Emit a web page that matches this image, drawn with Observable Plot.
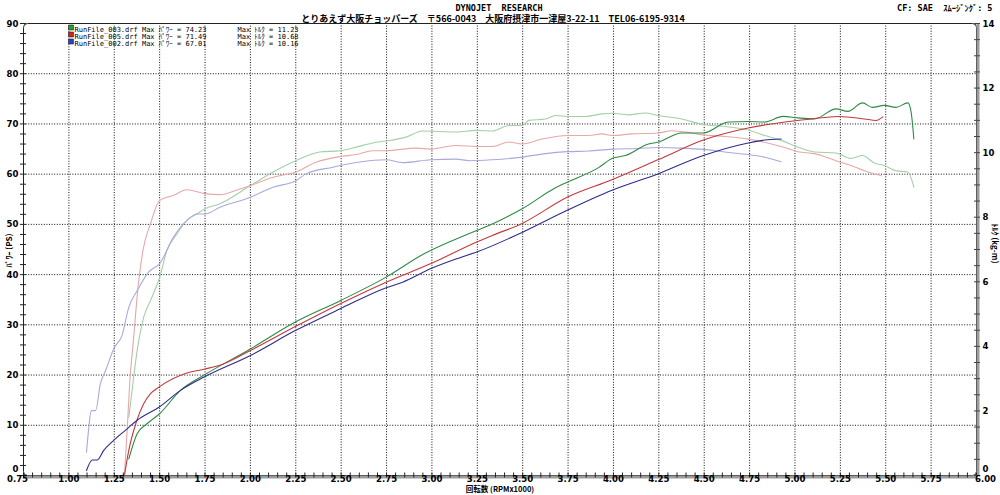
<!DOCTYPE html>
<html><head><meta charset="utf-8">
<script src="https://cdn.jsdelivr.net/npm/d3@7"></script>
<script src="https://cdn.jsdelivr.net/npm/@observablehq/plot@0.6"></script>
<style>html,body{margin:0;padding:0;background:#fff;} svg{display:block}</style>
</head><body><div id="chart"></div>
<script>
// ---- texts ----
const titleMain = "DYNOJET  RESEARCH";
const titleShop = "とりあえず大阪チョッパーズ　〒566-0043　大阪府摂津市一津屋3-22-11　TEL06-6195-9314";
const titleCF = "CF: SAE  ｽﾑｰｼﾞﾝｸﾞ: 5";
const xTitle = "回転数 (RPMx1000)";
const yTitleLeft = "ﾊﾟﾜｰ (PS)";
const yTitleRight = "ﾄﾙｸ (kg-m)";

// ---- legend ----
const runNames = ["RunFile_003.drf", "RunFile_005.drf", "RunFile_002.drf"];
const maxPower = ["74.23", "71.49", "67.01"];
const maxTorque = ["11.23", "10.68", "10.16"];

// ---- tick labels ----
const xTickLabels = ["0.75","1.00","1.25","1.50","1.75","2.00","2.25","2.50","2.75","3.00","3.25","3.50","3.75","4.00","4.25","4.50","4.75","5.00","5.25","5.50","5.75","6.00"];
const yTickLabels = [0,10,20,30,40,50,60,70,80,90];
const torqueTickLabels = [0,2,4,6,8,10,12,14];

// ---- power (PS) : [rpm x1000, PS] ----
const power003 = [[1.33,3.3],[1.376,8.3],[1.43,10.3],[1.50,12.3],[1.613,16.9],[1.75,20.1],[2.0,25.2],[2.25,30.6],[2.495,34.8],[2.748,39.5],[2.949,44.0],[3.247,48.8],[3.333,50.1],[3.497,53.1],[3.681,57.3],[3.745,58.4],[3.918,61.3],[3.992,63.1],[4.065,63.7],[4.193,66.0],[4.248,66.4],[4.376,68.2],[4.495,68.2],[4.632,70.4],[4.742,70.5],[4.833,70.4],[4.934,71.5],[5.016,71.2],[5.108,71.0],[5.226,73.0],[5.292,72.5],[5.372,74.2],[5.427,73.3],[5.492,73.7],[5.556,73.3],[5.622,74.2],[5.640,72.3],[5.655,67.0]];
const power005 = [[1.306,0],[1.33,5.0],[1.37,10.5],[1.412,14.3],[1.45,16.3],[1.50,17.7],[1.65,20.4],[1.75,21.2],[1.851,22.2],[2.0,24.9],[2.25,29.7],[2.495,34.2],[2.748,38.5],[2.995,42.2],[3.247,46.5],[3.333,47.8],[3.497,50.2],[3.745,55.4],[3.992,58.9],[4.248,62.9],[4.495,66.8],[4.742,69.2],[4.907,70.2],[5.09,71.0],[5.237,71.49],[5.383,71.0],[5.447,70.7],[5.484,71.4]];
const power002 = [[1.097,1.0],[1.129,3.1],[1.157,3.1],[1.192,5.0],[1.25,7.1],[1.311,9.0],[1.376,11.0],[1.50,13.7],[1.613,16.9],[1.75,19.7],[2.0,23.9],[2.25,28.9],[2.495,33.2],[2.748,37.4],[2.839,38.5],[2.995,41.2],[3.132,43.1],[3.247,44.5],[3.497,48.4],[3.745,52.8],[3.992,56.8],[4.248,60.1],[4.495,63.7],[4.742,66.2],[4.833,66.8],[4.924,67.01]];

// ---- torque (kg-m) : [rpm x1000, kg-m] ----
const torque003 = [[1.33,1.80],[1.348,2.63],[1.376,3.87],[1.412,4.90],[1.449,5.41],[1.50,6.14],[1.54,6.97],[1.595,7.48],[1.65,7.90],[1.705,8.10],[1.75,8.26],[1.833,8.42],[2.0,8.98],[2.125,9.40],[2.25,9.75],[2.382,10.02],[2.495,10.06],[2.583,10.17],[2.674,10.30],[2.748,10.36],[2.858,10.48],[2.949,10.67],[3.132,10.64],[3.247,10.69],[3.333,10.67],[3.424,10.84],[3.497,10.84],[3.534,11.00],[3.626,11.04],[3.681,11.15],[3.745,11.12],[3.846,11.12],[3.937,11.20],[3.992,11.22],[4.083,11.17],[4.175,11.23],[4.248,11.15],[4.376,11.04],[4.495,10.87],[4.614,10.81],[4.742,10.70],[4.833,10.53],[4.924,10.38],[5.016,10.17],[5.108,10.02],[5.226,9.99],[5.309,9.82],[5.372,9.91],[5.437,9.68],[5.492,9.60],[5.556,9.44],[5.622,9.40],[5.655,8.93]];
const torque005 = [[1.306,0],[1.320,1.29],[1.335,2.85],[1.357,4.28],[1.379,5.72],[1.408,6.97],[1.449,7.79],[1.50,8.52],[1.577,8.68],[1.65,8.85],[1.75,8.73],[1.833,8.70],[1.925,8.84],[2.0,8.98],[2.125,9.24],[2.25,9.40],[2.364,9.71],[2.495,9.88],[2.583,9.94],[2.674,10.06],[2.748,10.06],[2.913,10.14],[2.995,10.11],[3.132,10.22],[3.247,10.19],[3.333,10.19],[3.424,10.33],[3.497,10.27],[3.607,10.42],[3.745,10.53],[3.864,10.53],[3.937,10.58],[3.992,10.53],[4.101,10.58],[4.248,10.61],[4.321,10.68],[4.431,10.61],[4.495,10.55],[4.614,10.50],[4.742,10.42],[4.870,10.27],[4.943,10.16],[5.016,10.03],[5.108,9.97],[5.226,9.75],[5.309,9.60],[5.383,9.44],[5.474,9.29]];
const torque002 = [[1.097,0.72],[1.11,1.49],[1.123,2.01],[1.147,2.01],[1.174,2.85],[1.202,3.25],[1.251,3.97],[1.293,4.34],[1.33,5.21],[1.376,5.72],[1.439,6.30],[1.50,6.56],[1.577,7.39],[1.65,7.90],[1.705,8.10],[1.75,8.10],[1.833,8.31],[2.0,8.62],[2.125,8.93],[2.25,9.13],[2.309,9.35],[2.455,9.55],[2.601,9.71],[2.748,9.78],[2.839,9.69],[2.995,9.78],[3.132,9.80],[3.206,9.75],[3.333,9.78],[3.497,9.86],[3.626,9.97],[3.745,10.03],[3.864,10.05],[3.992,10.11],[4.138,10.13],[4.248,10.16],[4.376,10.14],[4.495,10.10],[4.614,10.02],[4.742,9.94],[4.833,9.86],[4.924,9.72]];

// ---- styles ----
const powerColors = ["#2f8a45", "#c23a3c", "#2c2c8c"];
const torqueColors = ["#a3d0a6", "#e6a8a8", "#a9a9dc"];
const iconColors = ["#2aa02a", "#d42424", "#2444d4"];

const K = 90 / 14; // torque kg-m -> left-axis units
const xVals = xTickLabels.map(Number);
const xGrid = xVals.filter(v => v > 0.76 && v < 5.99);
const yGrid = yTickLabels.filter(v => v > 0 && v < 90);
const xMinor = d3.range(15, 121).map(i => i * 0.05);
const yMinor = d3.range(0, 46).map(i => i * 2);
const tMinor = d3.range(0, 29).map(i => i * 0.5 * K);

const tickFont = "'Liberation Sans Narrow', 'DejaVu Sans Condensed', sans-serif";
const monoFont = "'DejaVu Sans Mono', 'Noto Sans CJK JP', monospace";
const cjkFont = "'Noto Sans CJK JP', sans-serif";

const powerSeries = [power003, power005, power002];
const torqueSeries = [torque003, torque005, torque002];

const marks = [
  Plot.ruleX(xGrid, {stroke: "#111", strokeDasharray: "1,1.6", strokeWidth: 1}),
  Plot.ruleY(yGrid, {stroke: "#111", strokeDasharray: "1,1.6", strokeWidth: 1}),
];
torqueSeries.forEach((s, i) => marks.push(
  Plot.line(s, {x: d => d[0], y: d => d[1] * K, stroke: torqueColors[i], strokeWidth: 1.1, curve: "monotone-x"})
));
powerSeries.forEach((s, i) => marks.push(
  Plot.line(s, {x: d => d[0], y: d => d[1], stroke: powerColors[i], strokeWidth: 1.1, curve: "monotone-x"})
));
const lab = {fontFamily: tickFont, fontSize: 9.5, fontWeight: "bold"};
marks.push(
  Plot.frame({stroke: "#222", rx: 4}),
  Plot.ruleX([6], {stroke: "#9c9c9c", strokeWidth: 3, dx: 1.5}),
  Plot.ruleY([0], {stroke: "#9c9c9c", strokeWidth: 3, dy: 1.5}),
  // minor ticks
  Plot.axisX({anchor: "bottom", ticks: xMinor, tickSize: 5, dy: -2.5, tickFormat: () => "", stroke: "#222"}),
  Plot.axisY({anchor: "left", ticks: yMinor, tickSize: 6, dx: 3, tickFormat: () => "", stroke: "#222"}),
  Plot.axisY({anchor: "right", ticks: tMinor, tickSize: 6, dx: -3, tickFormat: () => "", stroke: "#444"}),
  // x labels
  Plot.axisX({anchor: "bottom", ticks: xVals.slice(1, -1), tickSize: 0, tickPadding: 0, tickFormat: d => xTickLabels[xVals.indexOf(d)], ...lab}),
  Plot.axisX({anchor: "bottom", ticks: [xVals[0]], tickSize: 0, tickPadding: 0, dx: -6, tickFormat: () => xTickLabels[0], ...lab}),
  Plot.axisX({anchor: "bottom", ticks: [xVals[xVals.length - 1]], tickSize: 0, tickPadding: 0, dx: 9, tickFormat: () => xTickLabels[xTickLabels.length - 1], ...lab}),
  // left labels
  Plot.axisY({anchor: "left", ticks: yTickLabels.slice(1), tickSize: 0, tickPadding: 5, tickFormat: d => String(d), ...lab}),
  Plot.axisY({anchor: "left", ticks: [0], tickSize: 0, tickPadding: 5, dy: -7, tickFormat: () => "0", ...lab}),
  // right labels
  Plot.axisY({anchor: "right", ticks: torqueTickLabels.slice(1).map(v => v * K), tickSize: 0, tickPadding: 6, tickFormat: d => String(Math.round(d / K)), ...lab}),
  Plot.axisY({anchor: "right", ticks: [0], tickSize: 0, tickPadding: 6, dy: -7, tickFormat: () => "0", ...lab}),
  // titles
  Plot.text([titleMain], {frameAnchor: "top", dy: -18.5, dx: -1, fontFamily: monoFont, fontSize: 8.5, fontWeight: "bold", ariaLabel: "t-main"}),
  Plot.text([titleShop], {frameAnchor: "top", dy: -7.5, dx: -7, fontFamily: cjkFont, fontSize: 9, fontWeight: "bold", ariaLabel: "t-shop"}),
  Plot.text([titleCF], {frameAnchor: "top-right", textAnchor: "end", dx: 16, dy: -18.5, fontFamily: monoFont, fontSize: 8.5, fontWeight: "bold", ariaLabel: "t-cf"}),
  Plot.text([xTitle], {frameAnchor: "bottom", dy: 16.5, fontFamily: cjkFont, fontSize: 7.5, fontWeight: "bold", ariaLabel: "t-x"}),
  Plot.text([yTitleLeft], {frameAnchor: "left", textAnchor: "start", dx: -14, dy: 18, rotate: -90, fontFamily: cjkFont, fontSize: 8, fontWeight: "bold", ariaLabel: "t-yl"}),
  Plot.text([yTitleRight], {frameAnchor: "right", textAnchor: "start", dx: 18, dy: -26, rotate: 90, fontFamily: cjkFont, fontSize: 8, fontWeight: "bold", ariaLabel: "t-yr"})
);
// legend
runNames.forEach((n, i) => {
  const dy = 4 + 7 * i;
  marks.push(
    Plot.dot([0], {frameAnchor: "top-left", dx: 47.5, dy, symbol: "square", r: 2.8, fill: iconColors[i], stroke: "#222", strokeWidth: 0.6}),
    Plot.text([`${n} Max ﾊﾟﾜｰ = ${maxPower[i]}`], {frameAnchor: "top-left", textAnchor: "start", dx: 51, dy, fontFamily: monoFont, fontSize: 7, ariaLabel: "leg-a"}),
    Plot.text([`Max ﾄﾙｸ = ${maxTorque[i]}`], {frameAnchor: "top-left", textAnchor: "start", dx: 214, dy, fontFamily: monoFont, fontSize: 7, ariaLabel: "leg-b"})
  );
});

const chart = Plot.plot({
  width: 1000, height: 495,
  marginLeft: 23, marginRight: 24, marginTop: 23, marginBottom: 20,
  x: {domain: [0.75, 6]},
  y: {domain: [0, 90]},
  style: {background: "#fff", color: "#000", fontFamily: tickFont, fontSize: "10px"},
  marks
});
document.getElementById("chart").append(chart);
// fit header / legend / axis-title lines to the reference widths
const fit = (label, w) => d3.select(chart).selectAll(`g[aria-label="${label}"] text`).attr("textLength", w).attr("lengthAdjust", "spacingAndGlyphs");
fit("t-shop", 393);
fit("t-main", 85);
fit("t-cf", 88);
fit("t-x", 78);
fit("t-yl", 37);
fit("t-yr", 50);
fit("leg-a", 143);
fit("leg-b", 58);
</script>
</body></html>
